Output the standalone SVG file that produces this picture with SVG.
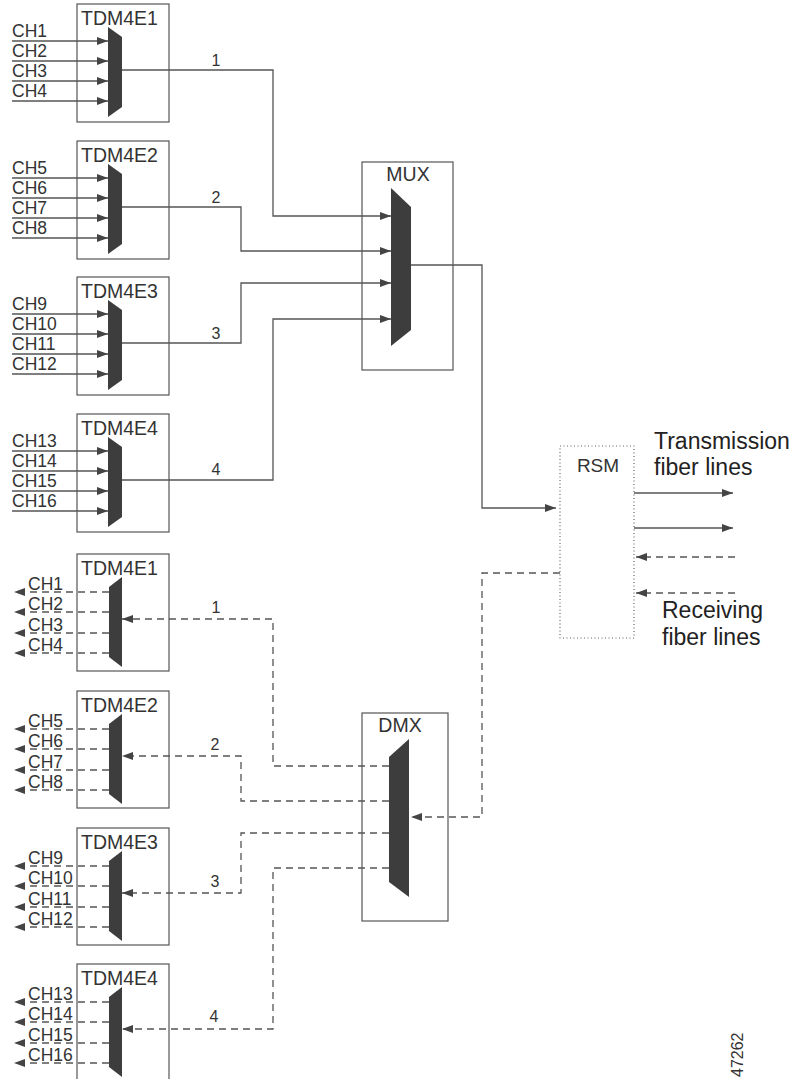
<svg xmlns="http://www.w3.org/2000/svg" width="798" height="1079" viewBox="0 0 798 1079">
<defs>
<style>
text{font-family:"Liberation Sans",Arial,sans-serif;fill:#333}
.box{fill:none;stroke:#555;stroke-width:1.2}
.rsm{fill:none;stroke:#666;stroke-width:1.2;stroke-dasharray:1 2.5}
.trap{fill:#3d3d3d;stroke:none}
.ln{fill:none;stroke:#555;stroke-width:1.3}
.dl{fill:none;stroke:#555;stroke-width:1.3;stroke-dasharray:7 5}
.ttl{font-size:19.5px}
.ch{font-size:17.5px}
.num{font-size:16px;text-anchor:middle}
.big{font-size:23px;fill:#222}
</style>
<marker id="ah" viewBox="0 0 11 8" refX="11" refY="4" markerWidth="11" markerHeight="8" markerUnits="userSpaceOnUse" orient="auto">
<path d="M0,0 L11,4 L0,8 z" fill="#444"/>
</marker>
</defs>
<rect width="798" height="1079" fill="#fff"/>

<!-- Top TDM boxes -->
<g id="tdm-tx-1">
<rect class="box" x="77" y="4" width="92" height="118"/>
<text class="ttl" x="81" y="25">TDM4E1</text>
<polygon class="trap" points="108,27 122,37 122,107 108,117"/>
<text class="ch" x="12" y="37">CH1</text><text class="ch" x="12" y="57">CH2</text><text class="ch" x="12" y="77">CH3</text><text class="ch" x="12" y="97">CH4</text>
<path class="ln" d="M12,41H108" marker-end="url(#ah)"/><path class="ln" d="M12,61H108" marker-end="url(#ah)"/><path class="ln" d="M12,81H108" marker-end="url(#ah)"/><path class="ln" d="M12,101H108" marker-end="url(#ah)"/>
</g>
<g id="tdm-tx-2">
<rect class="box" x="77" y="141" width="92" height="118"/>
<text class="ttl" x="81" y="162">TDM4E2</text>
<polygon class="trap" points="108,164 122,174 122,244 108,254"/>
<text class="ch" x="12" y="174">CH5</text><text class="ch" x="12" y="194">CH6</text><text class="ch" x="12" y="214">CH7</text><text class="ch" x="12" y="234">CH8</text>
<path class="ln" d="M12,178H108" marker-end="url(#ah)"/><path class="ln" d="M12,198H108" marker-end="url(#ah)"/><path class="ln" d="M12,218H108" marker-end="url(#ah)"/><path class="ln" d="M12,238H108" marker-end="url(#ah)"/>
</g>
<g id="tdm-tx-3">
<rect class="box" x="77" y="277" width="92" height="118"/>
<text class="ttl" x="81" y="298">TDM4E3</text>
<polygon class="trap" points="108,300 122,310 122,380 108,390"/>
<text class="ch" x="12" y="310">CH9</text><text class="ch" x="12" y="330">CH10</text><text class="ch" x="12" y="350">CH11</text><text class="ch" x="12" y="370">CH12</text>
<path class="ln" d="M12,314H108" marker-end="url(#ah)"/><path class="ln" d="M12,334H108" marker-end="url(#ah)"/><path class="ln" d="M12,354H108" marker-end="url(#ah)"/><path class="ln" d="M12,374H108" marker-end="url(#ah)"/>
</g>
<g id="tdm-tx-4">
<rect class="box" x="77" y="414" width="92" height="118"/>
<text class="ttl" x="81" y="435">TDM4E4</text>
<polygon class="trap" points="108,437 122,447 122,517 108,527"/>
<text class="ch" x="12" y="447">CH13</text><text class="ch" x="12" y="467">CH14</text><text class="ch" x="12" y="487">CH15</text><text class="ch" x="12" y="507">CH16</text>
<path class="ln" d="M12,451H108" marker-end="url(#ah)"/><path class="ln" d="M12,471H108" marker-end="url(#ah)"/><path class="ln" d="M12,491H108" marker-end="url(#ah)"/><path class="ln" d="M12,511H108" marker-end="url(#ah)"/>
</g>

<!-- MUX -->
<g id="mux">
<rect class="box" x="362" y="162" width="91" height="208"/>
<text class="ttl" x="408" y="181" text-anchor="middle">MUX</text>
<polygon class="trap" points="391,188 411,207 411,330 391,346"/>
</g>

<!-- RSM -->
<g id="rsm">
<rect class="rsm" x="560" y="446" width="74" height="192"/>
<text class="ttl" x="598" y="472" text-anchor="middle" style="font-size:19px">RSM</text>
</g>

<!-- DMX -->
<g id="dmx">
<rect class="box" x="362" y="713" width="86" height="208"/>
<text class="ttl" x="400" y="732" text-anchor="middle">DMX</text>
<polygon class="trap" points="389,757 409,739 409,897 389,882"/>
</g>

<!-- Bottom TDM boxes -->
<g id="tdm-rx-1">
<rect class="box" x="77" y="554" width="92" height="117"/>
<text class="ttl" x="81" y="575">TDM4E1</text>
<polygon class="trap" points="109,587 122,577 122,667 109,657"/>
<text class="ch" x="28" y="590">CH1</text><text class="ch" x="28" y="610">CH2</text><text class="ch" x="28" y="631">CH3</text><text class="ch" x="28" y="651">CH4</text>
<path class="dl" d="M109,592H14" marker-end="url(#ah)"/><path class="dl" d="M109,612H14" marker-end="url(#ah)"/><path class="dl" d="M109,633H14" marker-end="url(#ah)"/><path class="dl" d="M109,653H14" marker-end="url(#ah)"/>
</g>
<g id="tdm-rx-2">
<rect class="box" x="77" y="691" width="92" height="117"/>
<text class="ttl" x="81" y="712">TDM4E2</text>
<polygon class="trap" points="109,724 122,714 122,804 109,794"/>
<text class="ch" x="28" y="727">CH5</text><text class="ch" x="28" y="747">CH6</text><text class="ch" x="28" y="768">CH7</text><text class="ch" x="28" y="788">CH8</text>
<path class="dl" d="M109,729H14" marker-end="url(#ah)"/><path class="dl" d="M109,749H14" marker-end="url(#ah)"/><path class="dl" d="M109,770H14" marker-end="url(#ah)"/><path class="dl" d="M109,790H14" marker-end="url(#ah)"/>
</g>
<g id="tdm-rx-3">
<rect class="box" x="77" y="828" width="92" height="117"/>
<text class="ttl" x="81" y="849">TDM4E3</text>
<polygon class="trap" points="109,861 122,851 122,941 109,931"/>
<text class="ch" x="28" y="864">CH9</text><text class="ch" x="28" y="884">CH10</text><text class="ch" x="28" y="905">CH11</text><text class="ch" x="28" y="925">CH12</text>
<path class="dl" d="M109,866H14" marker-end="url(#ah)"/><path class="dl" d="M109,886H14" marker-end="url(#ah)"/><path class="dl" d="M109,907H14" marker-end="url(#ah)"/><path class="dl" d="M109,927H14" marker-end="url(#ah)"/>
</g>
<g id="tdm-rx-4">
<rect class="box" x="77" y="964" width="92" height="117"/>
<text class="ttl" x="81" y="985">TDM4E4</text>
<polygon class="trap" points="109,997 122,987 122,1077 109,1067"/>
<text class="ch" x="28" y="1000">CH13</text><text class="ch" x="28" y="1020">CH14</text><text class="ch" x="28" y="1041">CH15</text><text class="ch" x="28" y="1061">CH16</text>
<path class="dl" d="M109,1002H14" marker-end="url(#ah)"/><path class="dl" d="M109,1022H14" marker-end="url(#ah)"/><path class="dl" d="M109,1043H14" marker-end="url(#ah)"/><path class="dl" d="M109,1063H14" marker-end="url(#ah)"/>
</g>

<!-- Connectors -->
<g id="connectors">
<path class="ln" d="M122,70H273V216H391" marker-end="url(#ah)"/>
<path class="ln" d="M122,207H241V251H391" marker-end="url(#ah)"/>
<path class="ln" d="M122,343H241V283H391" marker-end="url(#ah)"/>
<path class="ln" d="M122,480H273V319H391" marker-end="url(#ah)"/>
<path class="ln" d="M411,265H482V508H556" marker-end="url(#ah)"/>
<path class="ln" d="M634,493H733" marker-end="url(#ah)"/>
<path class="ln" d="M634,528H733" marker-end="url(#ah)"/>
<path class="dl" d="M735,557H636" marker-end="url(#ah)"/>
<path class="dl" d="M735,593H636" marker-end="url(#ah)"/>
<path class="dl" d="M560,573H482V817H411" marker-end="url(#ah)"/>
<path class="dl" d="M389,766H273V619H122" marker-end="url(#ah)"/>
<path class="dl" d="M389,801H241V756H122" marker-end="url(#ah)"/>
<path class="dl" d="M389,833H241V893H122" marker-end="url(#ah)"/>
<path class="dl" d="M389,868H273V1029H122" marker-end="url(#ah)"/>
<text class="num" x="216" y="66">1</text>
<text class="num" x="216" y="203">2</text>
<text class="num" x="216" y="339">3</text>
<text class="num" x="216" y="475">4</text>
<text class="num" x="216" y="613">1</text>
<text class="num" x="215" y="750">2</text>
<text class="num" x="215" y="887">3</text>
<text class="num" x="214" y="1022">4</text>
</g>

<text class="big" x="654" y="449">Transmission</text>
<text class="big" x="654" y="475">fiber lines</text>
<text class="big" x="662" y="618">Receiving</text>
<text class="big" x="662" y="645">fiber lines</text>
<text x="743" y="1077" transform="rotate(-90 743 1077)" style="font-size:16px;fill:#333">47262</text>
</svg>
